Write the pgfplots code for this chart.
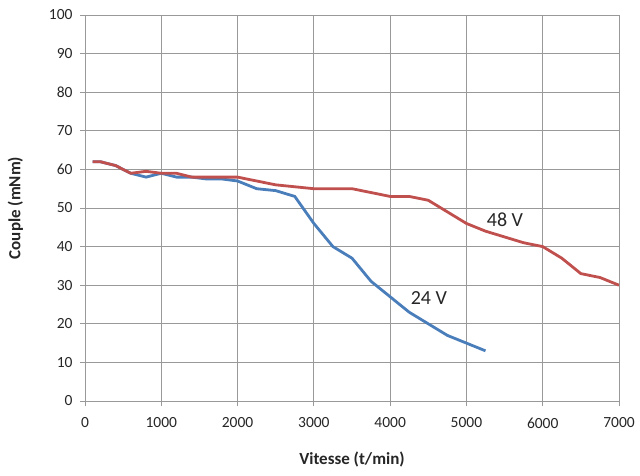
\documentclass[border=0pt]{standalone}
\usepackage{pgfplots}
\pgfplotsset{compat=1.18}
\usepackage{fontspec}
\setmainfont{Carlito}
\definecolor{red48}{HTML}{C0504D}
\definecolor{blue24}{HTML}{4A7EBB}
\definecolor{gridgray}{HTML}{999999}
\definecolor{txt}{HTML}{262626}
\begin{document}
\begin{tikzpicture}
\begin{axis}[
  scale only axis,
  width=534pt, height=386pt,
  xmin=0, xmax=7000, ymin=0, ymax=100,
  xtick={0,1000,...,7000}, ytick={0,10,...,100},
  /pgf/number format/assume math mode=true,
  xticklabel style={/pgf/number format/1000 sep={}},
  scaled x ticks=false,
  tick label style={font=\fontsize{15.5}{17}\selectfont, text=txt},
  grid=major,
  grid style={gridgray, line width=0.8pt},
  axis line style={gridgray, line width=0.8pt},
  tick style={gridgray, line width=0.8pt},
  tick align=outside,
  major tick length=5pt,
  xtick pos=bottom, ytick pos=left,
  xlabel={\textbf{Vitesse (t/min)}},
  ylabel={\textbf{Couple (mNm)}},
  label style={font=\fontsize{17}{19}\selectfont, text=txt},
  xlabel style={yshift=-17pt},
  ylabel style={yshift=19pt},
  yticklabel style={xshift=-4pt},
  xticklabel style={yshift=-8pt},
]
\addplot[blue24, line width=2.8pt] coordinates {
(100,62) (200,62) (400,61) (600,59) (800,58) (1000,59) (1200,58) (1400,58)
(1600,57.5) (1800,57.5) (2000,57) (2250,55) (2500,54.5) (2750,53) (3000,46)
(3250,40) (3500,37) (3750,31) (4000,27) (4250,23) (4500,20) (4750,17) (5000,15) (5250,13)
};
\addplot[red48, line width=2.8pt] coordinates {
(100,62) (200,62) (400,61) (600,59) (800,59.5) (1000,59) (1200,59) (1400,58)
(1600,58) (1800,58) (2000,58) (2250,57) (2500,56) (2750,55.5) (3000,55) (3250,55)
(3500,55) (3750,54) (4000,53) (4250,53) (4500,52) (4750,49) (5000,46) (5250,44)
(5500,42.5) (5750,41) (6000,40) (6250,37) (6500,33) (6750,32) (7000,30)
};
\node[font=\fontsize{20}{22}\selectfont, text=txt] at (axis cs:5505,46.9) {48 V};
\node[font=\fontsize{20}{22}\selectfont, text=txt] at (axis cs:4508,26.7) {24 V};
\end{axis}
\pgfresetboundingbox
\path ([xshift=-85pt,yshift=-74pt]current axis.south west) rectangle ([xshift=21pt,yshift=15pt]current axis.north east);
\end{tikzpicture}
\end{document}
